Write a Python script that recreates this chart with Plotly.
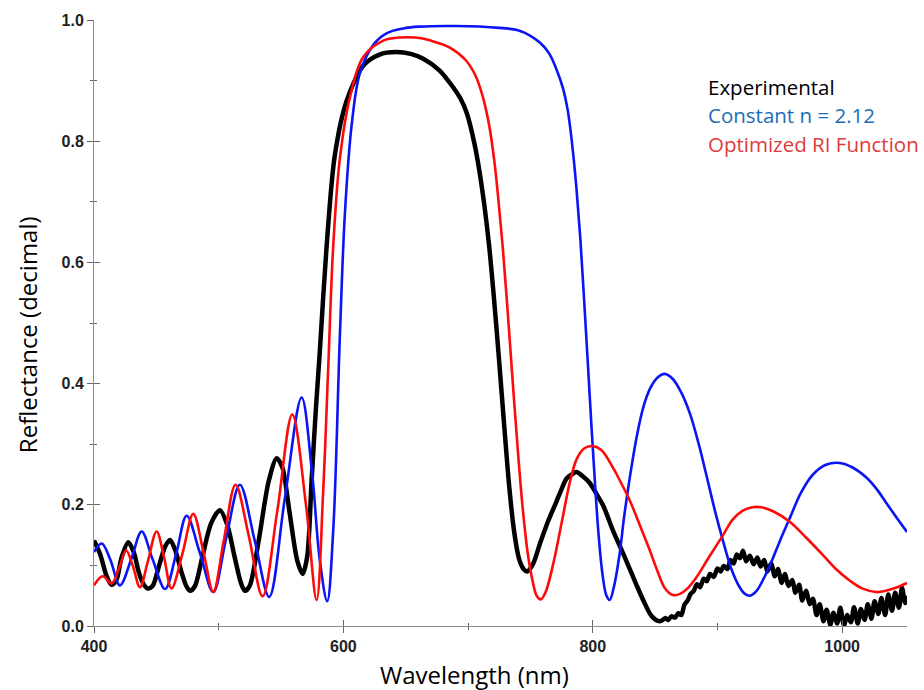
import plotly.graph_objects as go

# Measured reflectance spectrum (black)
exp_wl = [400, 405, 410, 414, 418, 422, 427.5, 432, 436, 440, 443, 447, 452, 457, 461,
          465, 470, 474, 477, 481, 487, 494, 501, 507, 513, 518, 521, 525, 532, 540,
          546.5, 551, 557, 563, 567.3, 571, 574.5, 578, 581, 586.5, 593, 602.5, 616,
          629, 642.5, 654, 664, 677, 688, 694, 699, 705, 709, 713, 717, 721, 725, 729,
          733, 737, 741, 744.5, 747.4, 752, 757.5, 764, 770.8, 775, 778.9, 783,
          786.9, 792, 797.6, 803, 808.3, 812, 816.3, 823, 829.7, 835, 840.4, 847, 853,
          855.5, 858, 860.5, 863, 866, 868.5, 871, 873.5, 876, 878.5, 881, 883.5, 886,
          889, 891.5, 894, 897, 900, 902.5, 905, 908, 910.5, 913, 915.5, 918, 920.5,
          923, 926, 929, 932, 934.5, 937.5, 940, 943, 946, 948.5, 951.5, 954, 957, 960,
          962.5, 965.5, 968, 971, 974, 976.5, 979.5, 982, 985, 987.5, 990.5, 993, 996,
          998.5, 1001.5, 1004, 1007, 1009.5, 1012.5, 1015, 1018, 1020.5, 1023.5, 1026,
          1029, 1031.5, 1034.5, 1037, 1040, 1042.5, 1045.5, 1048, 1050.5, 1052]
exp_r = [0.141, 0.118, 0.083, 0.068, 0.076, 0.112, 0.138, 0.121, 0.088, 0.068, 0.062,
         0.066, 0.098, 0.131, 0.142, 0.126, 0.090, 0.066, 0.058, 0.066, 0.115, 0.170,
         0.191, 0.166, 0.112, 0.070, 0.058, 0.067, 0.140, 0.238, 0.277, 0.262, 0.185,
         0.108, 0.086, 0.115, 0.240, 0.360, 0.450, 0.625, 0.775, 0.866, 0.925, 0.943,
         0.947, 0.944, 0.936, 0.917, 0.889, 0.870, 0.846, 0.797, 0.752, 0.695, 0.625,
         0.535, 0.435, 0.330, 0.230, 0.155, 0.110, 0.094, 0.090, 0.102, 0.135,
         0.172, 0.205, 0.226, 0.243, 0.250, 0.254, 0.247, 0.236, 0.218, 0.199, 0.180,
         0.157, 0.126, 0.094, 0.068, 0.043, 0.017, 0.008,
         0.009, 0.013, 0.010, 0.016, 0.014, 0.021, 0.018, 0.035, 0.042, 0.053, 0.058,
         0.069, 0.064, 0.078, 0.074, 0.086, 0.081, 0.095, 0.090, 0.099, 0.094, 0.109,
         0.103, 0.118, 0.112, 0.124, 0.107, 0.116, 0.102, 0.113, 0.098, 0.109, 0.090,
         0.103, 0.082, 0.094, 0.071, 0.086, 0.066, 0.076, 0.055, 0.068, 0.042, 0.058,
         0.036, 0.045, 0.018, 0.036, 0.008, 0.027, 0.002, 0.022, 0.004, 0.030, 0.001,
         0.018, 0.006, 0.031, 0.004, 0.028, 0.010, 0.036, 0.012, 0.041, 0.020, 0.046,
         0.018, 0.052, 0.025, 0.055, 0.030, 0.063, 0.038, 0.050]

# Model with constant refractive index n = 2.12 (blue)
const_wl = [400, 406.2, 413, 420.8, 430, 438.2, 447, 457, 466, 474.3, 485, 495.6, 506,
            517, 529, 540.5, 553, 566.5, 575, 581, 587, 591.8, 597.2, 601.2, 606.6,
            613.2, 624, 634.6, 648, 661, 690, 725, 740, 750, 758, 765, 771, 776, 780,
            784, 787, 790, 793, 796, 799, 802, 805, 808, 811, 813.6, 817, 821.6, 825,
            829.7, 835, 840.4, 846, 852, 857.7, 864, 871, 878, 885, 891, 898, 904.5,
            911, 917.8, 922, 926, 931, 937, 942, 950, 958, 967, 976.6, 987, 998, 1008,
            1019.4, 1028, 1035.4, 1044, 1052]
const_r = [0.122, 0.136, 0.110, 0.067, 0.111, 0.156, 0.110, 0.061, 0.120, 0.182, 0.120,
           0.056, 0.145, 0.233, 0.140, 0.048, 0.210, 0.377, 0.250, 0.110, 0.041, 0.156,
           0.480, 0.680, 0.826, 0.912, 0.959, 0.978, 0.986, 0.989, 0.990, 0.987, 0.983,
           0.974, 0.962, 0.945, 0.918, 0.888, 0.850, 0.785, 0.720, 0.640, 0.540, 0.435,
           0.328, 0.228, 0.142, 0.082, 0.050, 0.043, 0.065, 0.120, 0.178, 0.245, 0.310,
           0.360, 0.392, 0.410, 0.416, 0.408, 0.385, 0.350, 0.300, 0.250, 0.190, 0.140,
           0.095, 0.064, 0.053, 0.050, 0.057, 0.078, 0.100, 0.140, 0.178, 0.220, 0.250,
           0.266, 0.269, 0.262, 0.245, 0.225, 0.203, 0.178, 0.155]

# Model with optimized refractive index function (red)
opt_wl = [400, 407, 414.2, 420, 425.7, 431, 436.9, 443, 450.2, 456, 462.2, 471, 479.6,
          488, 495.6, 504, 513.5, 524, 535.2, 547, 559, 570, 578.5, 583.8, 587.8, 591.8,
          597.2, 605.2, 615.9, 632, 645, 658, 670, 685, 698, 706, 712, 717, 721,
          724, 728, 732, 736, 740, 744, 748, 752, 755, 758.3, 762, 768, 775, 781.6, 787,
          793, 800, 807, 816.3, 823, 829.7, 838, 845.7, 852, 858, 864.4, 870, 876, 883,
          893, 904.5, 912, 920, 928, 935.2, 945, 958, 971, 984.6, 995, 1006, 1016,
          1027.4, 1035, 1043, 1052]
opt_r = [0.067, 0.082, 0.070, 0.095, 0.125, 0.100, 0.064, 0.105, 0.156, 0.115, 0.062,
         0.120, 0.185, 0.120, 0.056, 0.140, 0.233, 0.150, 0.049, 0.190, 0.349, 0.200,
         0.043, 0.223, 0.424, 0.625, 0.772, 0.872, 0.939, 0.966, 0.971, 0.971, 0.966,
         0.955, 0.934, 0.908, 0.872, 0.825, 0.768, 0.710, 0.620, 0.512, 0.397,
         0.287, 0.190, 0.118, 0.072, 0.050, 0.044, 0.055, 0.100, 0.170, 0.237, 0.275,
         0.293, 0.297, 0.290, 0.261, 0.235, 0.207, 0.165, 0.125, 0.090, 0.062, 0.051,
         0.053, 0.062, 0.080, 0.113, 0.150, 0.175, 0.190, 0.196, 0.196, 0.189, 0.172,
         0.146, 0.117, 0.094, 0.075, 0.062, 0.056, 0.058, 0.063, 0.071]

legend_items = [("Experimental", "#000000"),
                ("Constant n = 2.12", "#1b6db5"),
                ("Optimized RI Function", "#e03a3a")]

x_range = [400, 1052]
y_range = [0, 1.0]
x_ticks = [400, 600, 800, 1000]
x_minor = [500, 700, 900]
y_ticks = [0.0, 0.2, 0.4, 0.6, 0.8, 1.0]
y_minor = [0.1, 0.3, 0.5, 0.7, 0.9]

fig = go.Figure()
fig.add_trace(go.Scatter(x=exp_wl, y=exp_r, mode="lines",
                         line=dict(color="#000000", width=4.5, shape="spline", smoothing=0.8)))
fig.add_trace(go.Scatter(x=const_wl, y=const_r, mode="lines",
                         line=dict(color="#0a14f5", width=2.6, shape="spline", smoothing=1.0)))
fig.add_trace(go.Scatter(x=opt_wl, y=opt_r, mode="lines",
                         line=dict(color="#ff0a0a", width=2.6, shape="spline", smoothing=1.0)))
# empty trace that carries the inner halves of the crossing ticks
fig.add_trace(go.Scatter(x=[], y=[], xaxis="x2", yaxis="y2", showlegend=False))

tick_font = dict(family="Liberation Sans", size=16, color="#222222", weight="bold")
title_font = dict(family="Open Sans", size=24, color="#000000")
tick_style = dict(tickcolor="#666666", tickwidth=1)

fig.update_layout(
    width=924, height=690,
    margin=dict(l=94, r=17, t=16, b=64),
    paper_bgcolor="white", plot_bgcolor="white",
    showlegend=False,
    xaxis=dict(range=x_range, tickmode="array", tickvals=x_ticks,
               ticks="outside", ticklen=6, **tick_style,
               minor=dict(tickmode="array", tickvals=x_minor, ticks="outside",
                          ticklen=3, **tick_style),
               showline=True, linecolor="#8c8c8c", linewidth=1,
               showgrid=False, zeroline=False, tickfont=tick_font),
    yaxis=dict(range=y_range, tickmode="array", tickvals=y_ticks, tickformat=".1f",
               ticks="outside", ticklen=6, **tick_style,
               minor=dict(tickmode="array", tickvals=y_minor,
                          ticks="outside", ticklen=3, **tick_style),
               showline=True, linecolor="#8c8c8c", linewidth=1,
               showgrid=False, zeroline=False, tickfont=tick_font),
    xaxis2=dict(overlaying="x", anchor="y", side="bottom", range=x_range,
                tickmode="array", tickvals=x_ticks, ticks="inside", ticklen=6,
                **tick_style, showticklabels=False,
                minor=dict(tickmode="array", tickvals=x_minor, ticks="inside",
                           ticklen=3, **tick_style),
                showline=False, showgrid=False, zeroline=False),
    yaxis2=dict(overlaying="y", anchor="x", side="left", range=y_range,
                tickmode="array", tickvals=y_ticks, ticks="inside", ticklen=6,
                **tick_style, showticklabels=False,
                minor=dict(tickmode="array", tickvals=y_minor,
                           ticks="inside", ticklen=3, **tick_style),
                showline=False, showgrid=False, zeroline=False),
)

# axis titles
fig.add_annotation(text="Reflectance (decimal)", xref="paper", yref="paper",
                   x=-0.0824, y=0.48, textangle=-90, showarrow=False,
                   xanchor="center", yanchor="middle", font=title_font)
fig.add_annotation(text="Wavelength (nm)", xref="paper", yref="paper",
                   x=0.4686, y=-0.0803, showarrow=False,
                   xanchor="center", yanchor="middle", font=title_font)

# legend text block
legend_y = [0.889, 0.843, 0.796]
for (label, color), ly in zip(legend_items, legend_y):
    fig.add_annotation(text=label, xref="paper", yref="paper", x=0.7525, y=ly,
                       showarrow=False, xanchor="left", yanchor="middle",
                       font=dict(family="Open Sans", size=20.5, color=color))

fig.write_html("out.html")
